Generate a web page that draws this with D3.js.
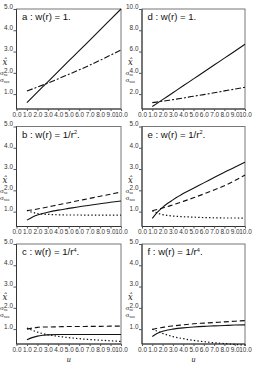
<!DOCTYPE html>
<html>
<head>
<meta charset="utf-8">
<script src="https://cdn.jsdelivr.net/npm/d3@7"></script>
<style>
  body { margin: 0; background: #fff; }
  svg { display: block; }
</style>
</head>
<body>
<div id="chart"></div>
<script>
// ---------- DATA ----------
const uLin = [1, 2, 3, 4, 5, 6, 7, 8, 9, 10];
const uCurve = [1, 1.5, 2, 2.5, 3, 4, 5, 6, 7, 8, 9, 10];

// w(r) = 1
const aSolid = [0.6, 1.09, 1.58, 2.07, 2.56, 3.04, 3.53, 4.02, 4.51, 5.0];
const aDash  = [1.15, 1.33, 1.52, 1.72, 1.93, 2.14, 2.36, 2.59, 2.83, 3.08];
const dSolid = [0.83, 1.48, 2.13, 2.78, 3.43, 4.08, 4.73, 5.38, 6.03, 6.68];
const dDash  = [1.2, 1.33, 1.48, 1.63, 1.8, 1.95, 2.12, 2.3, 2.47, 2.65];

// w(r) = 1/r^2
const bSolid = [0.6, 0.74, 0.84, 0.91, 0.97, 1.07, 1.15, 1.23, 1.3, 1.37, 1.44, 1.5];
const bDash  = [1.05, 1.08, 1.12, 1.17, 1.22, 1.32, 1.42, 1.52, 1.62, 1.72, 1.82, 1.92];
const bDot   = [1.05, 0.97, 0.91, 0.88, 0.87, 0.85, 0.84, 0.84, 0.83, 0.83, 0.83, 0.83];
const eSolid = [0.68, 0.97, 1.2, 1.39, 1.55, 1.85, 2.1, 2.35, 2.6, 2.85, 3.08, 3.32];
const eDash  = [1.04, 1.1, 1.17, 1.24, 1.32, 1.48, 1.65, 1.83, 2.02, 2.22, 2.46, 2.72];
const eDot   = [1.04, 0.93, 0.86, 0.82, 0.79, 0.76, 0.74, 0.72, 0.71, 0.7, 0.7, 0.69];

// w(r) = 1/r^4
const cSolid = [0.5, 0.6, 0.67, 0.71, 0.73, 0.75, 0.75, 0.75, 0.75, 0.75, 0.75, 0.75];
const cDash  = [1.0, 1.05, 1.08, 1.1, 1.1, 1.11, 1.12, 1.12, 1.13, 1.13, 1.14, 1.14];
const cDot   = [1.05, 0.95, 0.86, 0.79, 0.74, 0.66, 0.6, 0.55, 0.51, 0.48, 0.45, 0.42];
const fSolid = [0.65, 0.8, 0.9, 0.96, 1.0, 1.06, 1.1, 1.13, 1.15, 1.17, 1.19, 1.2];
const fDash  = [0.98, 1.04, 1.08, 1.12, 1.15, 1.2, 1.25, 1.28, 1.31, 1.34, 1.37, 1.4];
const fDot   = [1.0, 0.9, 0.8, 0.72, 0.65, 0.55, 0.47, 0.41, 0.36, 0.32, 0.28, 0.25];

const xTicks = [0, 1, 2, 3, 4, 5, 6, 7, 8, 9, 10];
const yTicks5 = [1, 2, 3, 4, 5];
const yTicks10 = [2, 4, 6, 8, 10];

// ---------- LAYOUT ----------
const W = 256, H = 371;
const COLS = [{ x0: 16.5, x1: 121 }, { x0: 142, x1: 245 }];
const ROW_TOPS = [9, 126.5, 244];
const PANEL_H = 100;

const DASHDOT = "6,2,2,2";
const DASH = "5,3";
const DOT = "1.4,2.2";

const panels = [
  { col: 0, row: 0, label: "a", w: ["1."], yMax: 5, yMin: 0.3, ticks: yTicks5,
    series: [{ u: uLin, v: aSolid, dash: null }, { u: uLin, v: aDash, dash: DASHDOT }] },
  { col: 1, row: 0, label: "d", w: ["1."], yMax: 10, yMin: 0.6, ticks: yTicks10,
    series: [{ u: uLin, v: dSolid, dash: null }, { u: uLin, v: dDash, dash: DASHDOT }] },
  { col: 0, row: 1, label: "b", w: ["1/r", "2", "."], yMax: 5, yMin: 0.3, ticks: yTicks5,
    series: [{ u: uCurve, v: bSolid, dash: null }, { u: uCurve, v: bDash, dash: DASH }, { u: uCurve, v: bDot, dash: DOT }] },
  { col: 1, row: 1, label: "e", w: ["1/r", "2", "."], yMax: 5, yMin: 0.3, ticks: yTicks5,
    series: [{ u: uCurve, v: eSolid, dash: null }, { u: uCurve, v: eDash, dash: DASH }, { u: uCurve, v: eDot, dash: DOT }] },
  { col: 0, row: 2, label: "c", w: ["1/r", "4", "."], yMax: 5, yMin: 0.3, ticks: yTicks5,
    series: [{ u: uCurve, v: cSolid, dash: null }, { u: uCurve, v: cDash, dash: DASH }, { u: uCurve, v: cDot, dash: DOT }] },
  { col: 1, row: 2, label: "f", w: ["1/r", "4", "."], yMax: 5, yMin: 0.3, ticks: yTicks5,
    series: [{ u: uCurve, v: fSolid, dash: null }, { u: uCurve, v: fDash, dash: DASH }, { u: uCurve, v: fDot, dash: DOT }] }
];

const svg = d3.select("#chart").append("svg")
  .attr("width", W)
  .attr("height", H)
  .style("font-family", "'Liberation Sans', Arial, sans-serif");

panels.forEach(p => {
  const c = COLS[p.col];
  const top = ROW_TOPS[p.row];
  const bottom = top + PANEL_H;

  const x = d3.scaleLinear().domain([0, 10]).range([c.x0, c.x1]);
  const y = d3.scaleLinear().domain([p.yMin, p.yMax]).range([bottom, top]);

  const g = svg.append("g");

  // frame
  g.append("rect")
    .attr("x", c.x0).attr("y", top)
    .attr("width", c.x1 - c.x0).attr("height", PANEL_H)
    .attr("fill", "none").attr("stroke", "#777").attr("stroke-width", 1);
  g.append("line").attr("x1", c.x0).attr("x2", c.x0).attr("y1", top).attr("y2", bottom)
    .attr("stroke", "#333");
  g.append("line").attr("x1", c.x0).attr("x2", c.x1).attr("y1", bottom).attr("y2", bottom)
    .attr("stroke", "#333");

  // x axis
  const xAxis = d3.axisBottom(x).tickValues(xTicks).tickSize(2).tickPadding(1)
    .tickFormat(d3.format(".1f"));
  const gx = g.append("g").attr("transform", `translate(0,${bottom})`).call(xAxis);
  gx.select(".domain").remove();
  gx.selectAll("line").attr("stroke", "#555");
  gx.selectAll("text").attr("font-size", 6.4).attr("fill", "#333")
    .attr("font-family", "'Liberation Sans', Arial, sans-serif");

  // y axis: labels sit on top of their tick marks
  const yAxis = d3.axisLeft(y).tickValues(p.ticks).tickSize(3).tickPadding(0.5)
    .tickFormat(d3.format(".1f"));
  const gy = g.append("g").attr("transform", `translate(${c.x0},0)`).call(yAxis);
  gy.select(".domain").remove();
  gy.selectAll("line").attr("stroke", "#555");
  gy.selectAll("text").attr("font-size", 6.4).attr("fill", "#333").attr("dy", "-0.1em")
    .attr("font-family", "'Liberation Sans', Arial, sans-serif");

  // y labels: x-hat, sigma_xu, sigma_xuu
  const lx = c.x0 - 16.5;
  g.append("text").attr("x", lx + 2.5).attr("y", top + 56)
    .attr("font-family", "'DejaVu Serif', 'Liberation Serif', serif")
    .attr("font-style", "italic").attr("font-size", 8.5).attr("fill", "#222")
    .text("x\u0302");
  [["xu", top + 66], ["xuu", top + 73]].forEach(([sub, yy]) => {
    const t = g.append("text").attr("x", lx).attr("y", yy)
      .attr("font-family", "'Liberation Serif', 'DejaVu Serif', serif")
      .attr("font-size", 7).attr("fill", "#222");
    t.append("tspan").text("σ");
    t.append("tspan").attr("font-size", 3.6).attr("dy", 1).text(sub);
  });

  // title
  const title = g.append("text").attr("x", c.x0 + 5.5).attr("y", top + 11)
    .attr("font-size", 9.6).attr("fill", "#111");
  title.append("tspan").text(`${p.label} : w(r) = ${p.w[0]}`);
  if (p.w.length > 1) {
    title.append("tspan").attr("font-size", 5.5).attr("dy", -3.5).text(p.w[1]);
    title.append("tspan").attr("dy", 3.5).text(p.w[2]);
  }

  // curves
  p.series.forEach(s => {
    const pts = s.u.map((u, i) => [u, s.v[i]]);
    const line = d3.line().x(d => x(d[0])).y(d => y(d[1])).curve(d3.curveMonotoneX);
    g.append("path").datum(pts)
      .attr("d", line)
      .attr("fill", "none")
      .attr("stroke", "#111")
      .attr("stroke-width", s.dash === DOT ? 1.2 : 1.1)
      .attr("stroke-dasharray", s.dash);
  });

  // u label under the bottom row
  if (p.row === 2) {
    g.append("text").attr("x", (c.x0 + c.x1) / 2).attr("y", bottom + 18)
      .attr("text-anchor", "middle")
      .attr("font-family", "'Liberation Serif', 'DejaVu Serif', serif")
      .attr("font-style", "italic").attr("font-size", 8).attr("fill", "#222")
      .text("u");
  }
});
</script>
</body>
</html>
